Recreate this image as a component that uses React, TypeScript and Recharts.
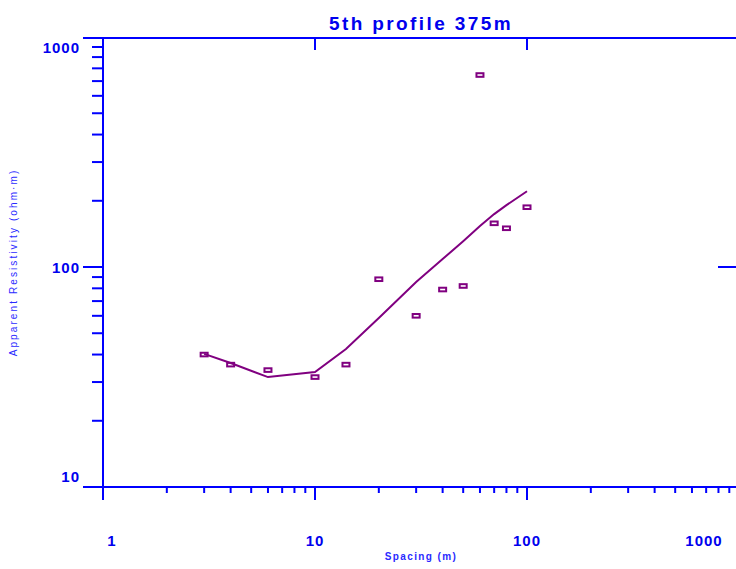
import React from "react"
import {
  ComposedChart,
  Line,
  Scatter,
  XAxis,
  YAxis,
  Label,
} from "recharts"

// electrode spacing (m) and measured apparent resistivity (ohm·m)
const spacings = [3, 4, 6, 10, 14, 20, 30, 40, 50, 60, 70, 80, 100]
const observed = [40, 36, 34, 31.6, 36, 88, 60, 79, 82, 746, 158, 150, 187]
// inverted model response at the same spacings
const modelRho = [40.3, 36.6, 31.6, 33.3, 42.4, 58.6, 85.5, 108.7, 131, 153.6, 174, 191, 221]

const xTicks = [1, 2, 3, 4, 5, 6, 7, 8, 9, 10, 20, 30, 40, 50, 60, 70, 80, 90, 100, 200, 300, 400, 500, 600, 700, 800, 900, 1000]
const xMajor = [1, 10, 100, 1000]
const topTicks = [1, 10, 100]
const yTicks = [10, 20, 30, 40, 50, 60, 70, 80, 90, 100, 200, 300, 400, 500, 600, 700, 800, 900, 1000]
const yMajor = [10, 100, 1000]
const rightTicks = [100]

const obsData = spacings.map((ab, i) => ({ ab, rho: observed[i] }))
const modelData = spacings.map((ab, i) => ({ ab, rho: modelRho[i] }))

const BLUE = "#0000ff"
const TEXT_BLUE = "#0000ee"
const PURPLE = "#800080"
const FONT = "'Liberation Sans', Arial, sans-serif"
const X_DOMAIN = [1, 1000]
const Y_DOMAIN = [10, 1099]

const tickText = {
  fontFamily: FONT,
  fontSize: 15,
  fontWeight: 700,
  letterSpacing: 1,
  fill: TEXT_BLUE,
}

function BottomTick(props: any) {
  const { x, y, payload } = props
  const v = payload.value
  const major = xMajor.includes(v)
  const dx = v === 1 ? 9 : v === 1000 ? -35 : 0
  return (
    <g>
      <line x1={x} x2={x} y1={y} y2={y + (major ? 13 : 6)} stroke={BLUE} strokeWidth={2} />
      {major && (
        <text x={x + dx} y={y + 59} textAnchor="middle" style={tickText}>
          {v}
        </text>
      )}
    </g>
  )
}

function TopTick(props: any) {
  const { x, y, payload } = props
  // the frame line runs a little past the left axis
  if (payload.value === 1) {
    return <line x1={x - 20} x2={x} y1={y} y2={y} stroke={BLUE} strokeWidth={2} />
  }
  return <line x1={x} x2={x} y1={y} y2={y + 12} stroke={BLUE} strokeWidth={2} />
}

function LeftTick(props: any) {
  const { x, y, payload } = props
  const v = payload.value
  const long = v === 10 || v === 100
  const major = yMajor.includes(v)
  return (
    <g>
      <line x1={x - (long ? 20 : 11)} x2={x} y1={y} y2={y} stroke={BLUE} strokeWidth={2} />
      {major && (
        <text x={x - 23} y={v === 10 ? y - 5.5 : y + 5.5} textAnchor="end" style={tickText}>
          {v}
        </text>
      )}
    </g>
  )
}

function RightTick(props: any) {
  const { x, y } = props
  return <line x1={x - 21} x2={x} y1={y} y2={y} stroke={BLUE} strokeWidth={2} />
}

function Box(props: any) {
  const { cx, cy } = props
  return (
    <rect x={cx - 3.5} y={cy - 1.8} width={7} height={3.6} fill="none" stroke={PURPLE} strokeWidth={2} />
  )
}

function YTitle(props: any) {
  const vb = props.viewBox
  const x = vb.x + 13
  const y = vb.y + vb.height / 2
  return (
    <text
      x={x}
      y={y}
      transform={`rotate(-90, ${x}, ${y})`}
      textAnchor="middle"
      dominantBaseline="central"
      style={{ fontFamily: FONT, fontSize: 10, letterSpacing: 2.1, fill: "#2a2aff" }}
    >
      Apparent Resistivity (ohm·m)
    </text>
  )
}

export default function App() {
  return (
    <div
      style={{
        position: "absolute",
        left: 0,
        top: 0,
        width: 736,
        height: 569,
        overflow: "hidden",
        background: "#fff",
      }}
    >
      <ComposedChart width={760} height={569} margin={{ top: 37, right: 20, bottom: 0, left: 0 }}>
        <XAxis
          xAxisId="bottom"
          dataKey="ab"
          type="number"
          scale="log"
          domain={X_DOMAIN}
          ticks={xTicks}
          interval={0}
          height={82}
          tickSize={0}
          tickMargin={0}
          tickLine={false}
          axisLine={{ stroke: BLUE, strokeWidth: 2 }}
          tick={(p: any) => <BottomTick {...p} />}
          allowDataOverflow
        >
          <Label
            value="Spacing (m)"
            position="insideBottom"
            offset={9}
            style={{ fontFamily: FONT, fontSize: 10, fontWeight: 700, letterSpacing: 1.4, fill: "#2a2aff" }}
          />
        </XAxis>
        <XAxis
          xAxisId="top"
          orientation="top"
          dataKey="ab"
          type="number"
          scale="log"
          domain={X_DOMAIN}
          ticks={topTicks}
          interval={0}
          height={1}
          tickSize={0}
          tickMargin={0}
          tickLine={false}
          axisLine={{ stroke: BLUE, strokeWidth: 2 }}
          tick={(p: any) => <TopTick {...p} />}
          allowDataOverflow
        >
          <Label
            value="5th profile 375m"
            position="top"
            offset={7}
            style={{ fontFamily: FONT, fontSize: 19, fontWeight: 700, letterSpacing: 2.4, fill: TEXT_BLUE }}
          />
        </XAxis>
        <YAxis
          yAxisId="left"
          type="number"
          scale="log"
          domain={Y_DOMAIN}
          ticks={yTicks}
          interval={0}
          width={103}
          tickSize={0}
          tickMargin={0}
          tickLine={false}
          axisLine={{ stroke: BLUE, strokeWidth: 2 }}
          tick={(p: any) => <LeftTick {...p} />}
          allowDataOverflow
          label={{ content: (p: any) => <YTitle {...p} /> }}
        />
        <YAxis
          yAxisId="right"
          orientation="right"
          type="number"
          scale="log"
          domain={Y_DOMAIN}
          ticks={rightTicks}
          interval={0}
          width={1}
          tickSize={0}
          tickMargin={0}
          tickLine={false}
          axisLine={{ stroke: BLUE, strokeWidth: 2 }}
          tick={(p: any) => <RightTick {...p} />}
          allowDataOverflow
        />
        {/* model curve on the top/right pair, which share the same domains */}
        <Line
          xAxisId="top"
          yAxisId="right"
          data={modelData}
          dataKey="rho"
          type="linear"
          stroke={PURPLE}
          strokeWidth={2}
          dot={false}
          isAnimationActive={false}
        />
        <Scatter
          xAxisId="bottom"
          yAxisId="left"
          data={obsData}
          dataKey="rho"
          shape={(p: any) => <Box {...p} />}
          isAnimationActive={false}
        />
      </ComposedChart>
    </div>
  )
}
